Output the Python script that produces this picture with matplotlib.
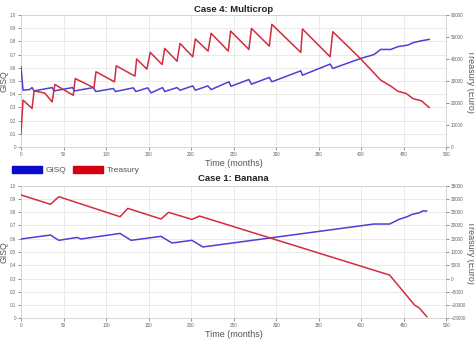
import matplotlib
matplotlib.use("Agg")
import matplotlib.pyplot as plt
from matplotlib.patches import Patch

plt.rcParams["font.family"] = ["Liberation Sans", "DejaVu Sans"]

# Case 4: Multicrop
mc_gisq_t = [0, 2.4, 10, 13, 15.4, 36.6, 39, 60.6, 63, 85, 88, 108.7, 111, 132, 135,
             149, 153, 166.5, 169, 183.5, 187, 202, 205, 219.7, 223.6, 244.5, 247,
             268, 271, 292, 295, 329, 331, 363.5, 366.7, 399.6, 415, 423, 435, 443,
             455, 461, 471, 480]
mc_gisq = [0.607, 0.43, 0.435, 0.45, 0.425, 0.45, 0.425, 0.45, 0.425, 0.45, 0.42,
           0.443, 0.42, 0.448, 0.42, 0.448, 0.41, 0.45, 0.42, 0.45, 0.43, 0.463,
           0.43, 0.463, 0.435, 0.494, 0.46, 0.511, 0.476, 0.527, 0.494, 0.577,
           0.544, 0.628, 0.595, 0.671, 0.70, 0.739, 0.739, 0.76, 0.772, 0.79,
           0.805, 0.815]
mc_tres_t = [0, 2.4, 13, 15.4, 28, 36.6, 39.8, 61.4, 63.8, 85.8, 88.2, 110, 112, 134,
             136, 148, 152, 166, 169, 183.5, 187, 202, 205, 220, 223.6, 243.7, 246.5,
             268, 271, 292, 295, 329, 331, 363.5, 366.7, 399, 423, 435, 443, 453,
             461, 471, 480]
mc_tres = [6000, 21300, 17500, 25500, 24500, 20500, 28400, 23500, 31100, 26900, 34200,
           29600, 36900, 32200, 40000, 35400, 43000, 37500, 44800, 39000, 47100,
           41000, 49100, 43600, 51700, 43600, 52700, 44350, 53900, 45870, 55750,
           42990, 53620, 41010, 52400, 40250, 30380, 27650, 25370, 24300, 22000,
           20960, 17920]

# Case 1: Banana
bn_gisq_t = [0, 34.6, 44.5, 66, 70.5, 116.5, 129.5, 164.6, 177.6, 201, 214, 415,
             433.5, 444.5, 454, 460, 468.6, 472.5, 477]
bn_gisq = [0.598, 0.628, 0.588, 0.61, 0.598, 0.64, 0.588, 0.618, 0.568, 0.588, 0.538,
           0.711, 0.711, 0.746, 0.766, 0.784, 0.796, 0.81, 0.809]
bn_tres_t = [0, 34.6, 44.5, 116.5, 125.6, 164.6, 173.6, 201, 210, 433.5, 462.7,
             468.6, 477.3]
bn_tres = [31500, 28000, 30850, 23300, 26450, 22450, 24950, 22300, 23550, 1300,
           -9950, -11200, -14400]

x_ticks = list(range(0, 501, 50))
gisq_ticks = [i / 10 for i in range(11)]

blue = "#4a40d4"
red = "#d22c3e"
grid_c = "#e6e6e6"
tick_c = "#666666"
label_c = "#555555"

fig = plt.figure(figsize=(4.74, 3.41), dpi=100)


def panel(rect, title, title_y, xlabel_y, t1, g, t2, tr, tres_ticks):
    ax = fig.add_axes(rect)
    ax.plot(t1, g, color=blue, lw=1.1, zorder=3)
    ax.set_xlim(0, 500)
    ax.set_ylim(0, 1)
    ax.set_xticks(x_ticks)
    ax.set_yticks(gisq_ticks)
    ax.set_yticklabels(["0"] + ["%.1f" % v for v in gisq_ticks[1:]])
    ax.grid(True, color=grid_c, lw=0.6)
    ax.set_axisbelow(True)
    ax.tick_params(labelsize=3.3, colors=tick_c, length=2, width=0.5, pad=1.5)
    for s in ax.spines.values():
        s.set_color("#d0d0d0")
        s.set_linewidth(0.6)
    ax.set_ylabel("GISQ", fontsize=6.3, color=label_c)
    ax.yaxis.set_label_coords(-0.039, 0.5)
    ax.yaxis.label.set_va("center")
    ax.set_xlabel("Time (months)", fontsize=6.5, color=label_c)
    ax.xaxis.set_label_coords(0.5, xlabel_y)
    ax.xaxis.label.set_va("center")
    ax.set_title(title, fontsize=6.8, fontweight="bold", y=title_y, va="center",
                 color="#222222", pad=0)
    ax2 = ax.twinx()
    ax2.plot(t2, tr, color=red, lw=1.1, zorder=3)
    ax2.set_ylim(tres_ticks[0], tres_ticks[-1])
    ax2.set_yticks(tres_ticks)
    ax2.tick_params(labelsize=3.3, colors=tick_c, length=2, width=0.5, pad=1.5)
    for s in ax2.spines.values():
        s.set_visible(False)
    ax2.set_ylabel("Treasury (Euro)", fontsize=6.5, rotation=270, color=label_c)
    ax2.yaxis.set_label_coords(1.057, 0.5)
    ax2.yaxis.label.set_va("center")
    return ax, ax2


panel([0.0443, 0.569, 0.897, 0.387], "Case 4: Multicrop", 1.038, -0.129,
      mc_gisq_t, mc_gisq, mc_tres_t, mc_tres, list(range(0, 60001, 10000)))
panel([0.0443, 0.0666, 0.897, 0.3888], "Case 1: Banana", 1.053, -0.121,
      bn_gisq_t, bn_gisq, bn_tres_t, bn_tres, list(range(-15000, 35001, 5000)))

handles = [Patch(facecolor="#0a0acc", edgecolor="#0a0acc", label="GISQ"),
           Patch(facecolor="#d40010", edgecolor="#d40010", label="Treasury")]
fig.legend(handles=handles, loc="center left", bbox_to_anchor=(0.025, 0.5015),
           ncol=2, frameon=False, fontsize=6, handlelength=3.6, handleheight=1.0,
           handletextpad=0.4, columnspacing=0.9, labelcolor=label_c,
           borderpad=0, borderaxespad=0)

fig.savefig("out.png", dpi=100)
